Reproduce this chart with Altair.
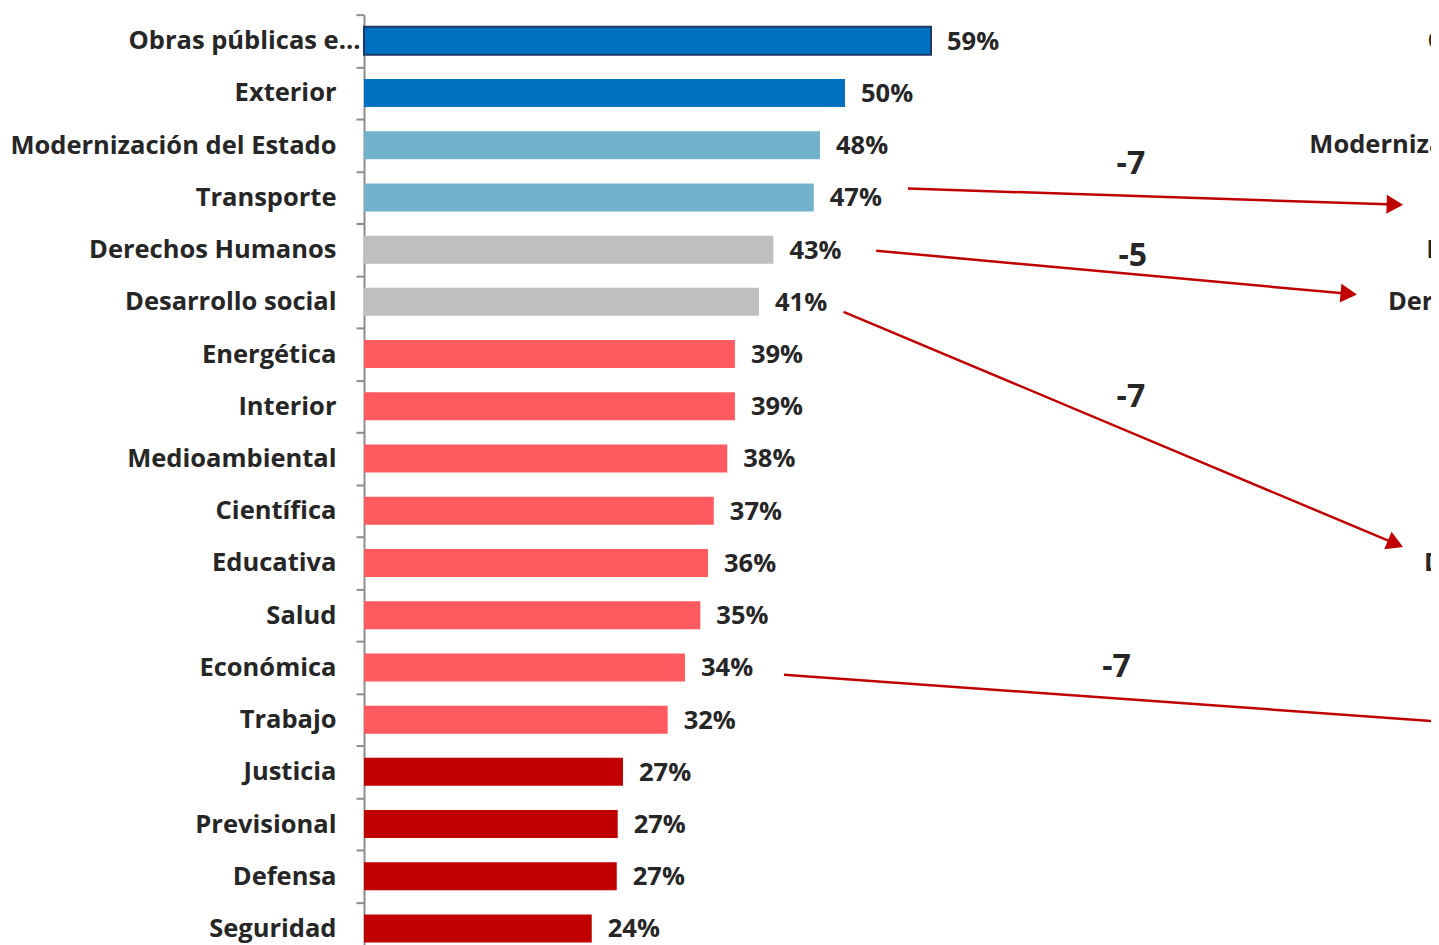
import math
import altair as alt
import pandas as pd

# ---------------- data ----------------
categories = [
    "Obras públicas e...", "Exterior", "Modernización del Estado", "Transporte",
    "Derechos Humanos", "Desarrollo social", "Energética", "Interior",
    "Medioambiental", "Científica", "Educativa", "Salud", "Económica",
    "Trabajo", "Justicia", "Previsional", "Defensa", "Seguridad",
]
values = [59.0, 50.05, 47.45, 46.8, 42.6, 41.1, 38.6, 38.6, 37.8, 36.4,
          35.8, 35.0, 33.4, 31.6, 26.95, 26.4, 26.3, 23.7]
value_labels = ["59%", "50%", "48%", "47%", "43%", "41%", "39%", "39%", "38%",
                "37%", "36%", "35%", "34%", "32%", "27%", "27%", "27%", "24%"]
groups = ["alto", "alto", "medio-alto", "medio-alto", "medio", "medio",
          "medio-bajo", "medio-bajo", "medio-bajo", "medio-bajo", "medio-bajo",
          "medio-bajo", "medio-bajo", "medio-bajo", "bajo", "bajo", "bajo", "bajo"]
group_order = ["alto", "medio-alto", "medio", "medio-bajo", "bajo"]
group_colors = ["#0070C0", "#71B1C9", "#BFBFBF", "#FF5A5F", "#C00000"]

# change arrows (rows are ranking positions, x in % units)
arrow_from_x = [56.6, 53.3, 49.9, 43.7]
arrow_from_row = [2.83, 4.02, 5.19, 12.14]
arrow_to_x = [108.1, 103.3, 108.1, 129.7]
arrow_to_row = [3.14, 4.86, 9.69, 13.27]
delta_text = ["-7", "-5", "-7", "-7"]
delta_x = [79.8, 80.0, 79.8, 78.3]
delta_row = [2.37, 4.13, 6.82, 11.99]

# labels of the (cut-off) comparison ranking on the right
right_rows = [0, 2, 4, 5, 10]
right_names = ["Obras públicas e...", "Modernización del Estado", "Medioambiental",
               "Derechos Humanos", "Desarrollo social"]
right_end_x = [134.8, 132.3, 132.3, 132.3, 132.3]

# ---------------- layout constants ----------------
# the page shrinks an svg wider than 1423px to fit; compensate so the
# drawn result lands on the intended pixels
K = 1431 / 1423
W, H = 961 * K, 940 * K
PAD_L, PAD_T = 356 * K, 4 * K
PAD_R = 1431 - PAD_L - W
XMAX = 100
PXU = W / XMAX
ROWPX = H / 18
FONT = "Open Sans"
FS = 25.5 * K
TXT = "#262626"
RED = "#C00000"

bars_df = pd.DataFrame({"cat": categories, "value": values,
                        "label": value_labels, "group": groups})

arr = pd.DataFrame({"x1": arrow_from_x, "y1": arrow_from_row,
                    "tx": arrow_to_x, "ty": arrow_to_row})
angs, hx, hy = [], [], []
for _, r in arr.iterrows():
    dxp = (r.tx - r.x1) * PXU
    dyp = (r.ty - r.y1) * ROWPX
    a = math.atan2(dyp, dxp)
    angs.append(math.degrees(a))
    hx.append(r.tx - 8 * K * math.cos(a) / PXU)
    hy.append(r.ty - 8 * K * math.sin(a) / ROWPX)
arr["ang"] = angs
arr["hx"] = hx
arr["hy"] = hy

delta_df = pd.DataFrame({"x": delta_x, "row": delta_row, "t": delta_text})
right_df = pd.DataFrame({"x": right_end_x, "row": right_rows, "t": right_names})

xscale = alt.Scale(domain=[0, XMAX], nice=False, zero=True)
yq = alt.Scale(domain=[-0.5, 17.5], reverse=True, nice=False, zero=False)

y_band = alt.Y(
    "cat:N", sort=categories, title=None,
    scale=alt.Scale(paddingInner=0, paddingOuter=0),
    axis=alt.Axis(
        tickBand="extent", tickSize=8 * K, tickWidth=2, tickColor="#8C8C8C",
        domainColor="#8C8C8C", domainWidth=2,
        labelFont=FONT, labelFontSize=FS, labelFontWeight="bold",
        labelColor=TXT, labelLimit=0,
        labelPadding={"condition": {"test": "datum.value == 'Obras públicas e...'",
                                    "value": -4 * K},
                      "value": 20 * K},
    ),
)

bars = alt.Chart(bars_df).mark_bar(height=28 * K, strokeWidth=2).encode(
    x=alt.X("value:Q", scale=xscale, axis=None),
    y=y_band,
    color=alt.Color("group:N", scale=alt.Scale(domain=group_order, range=group_colors),
                    legend=None),
    stroke=alt.condition(alt.datum.cat == categories[0], alt.value("#1F3864"),
                         alt.value("transparent")),
)

vals = alt.Chart(bars_df).mark_text(
    align="left", baseline="middle", dx=16 * K, dy=1, font=FONT, fontSize=FS,
    fontWeight="bold", color=TXT,
).encode(
    x=alt.X("value:Q", scale=xscale, axis=None),
    y=y_band,
    text="label:N",
)

lines = alt.Chart(arr).mark_rule(color=RED, strokeWidth=2.5).encode(
    x=alt.X("x1:Q", scale=xscale, axis=None),
    x2="hx:Q",
    y=alt.Y("y1:Q", scale=yq, axis=None),
    y2="hy:Q",
)

heads = alt.Chart(arr).mark_point(
    shape="triangle-right", filled=True, size=360 * K * K, color=RED, opacity=1,
).encode(
    x=alt.X("hx:Q", scale=xscale, axis=None),
    y=alt.Y("hy:Q", scale=yq, axis=None),
    angle=alt.Angle("ang:Q", scale=None),
)

deltas = alt.Chart(delta_df).mark_text(
    align="center", baseline="middle", font=FONT, fontSize=32 * K,
    fontWeight="bold", color=TXT,
).encode(
    x=alt.X("x:Q", scale=xscale, axis=None),
    y=alt.Y("row:Q", scale=yq, axis=None),
    text="t:N",
)

right_labels = alt.Chart(right_df).mark_text(
    align="right", baseline="middle", font=FONT, fontSize=FS,
    fontWeight="bold", color=TXT,
).encode(
    x=alt.X("x:Q", scale=xscale, axis=None),
    y=alt.Y("row:Q", scale=yq, axis=None),
    text="t:N",
)

annot = alt.layer(lines, heads, deltas, right_labels)

chart = alt.layer(alt.layer(bars, vals), annot).resolve_scale(y="independent").properties(
    width=W, height=H,
    autosize=alt.AutoSizeParams(type="none"),
    padding={"left": PAD_L, "top": PAD_T, "right": PAD_R, "bottom": 0},
    background="white",
).configure_view(stroke=None)

chart.save("out.html", embed_options={"renderer": "svg", "actions": False})
